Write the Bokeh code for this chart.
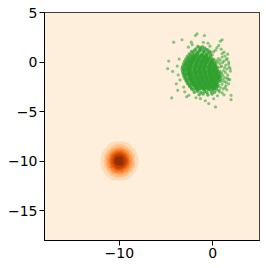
import numpy as np
from bokeh.plotting import figure
from bokeh.models import Range1d, FixedTicker, LinearColorMapper
from bokeh.embed import file_html
from bokeh.resources import INLINE

# ---------------- data ----------------
x_limits = [-18.0, 5.0]
y_limits = [-18.0, 5.0]
x_ticks = [-10, 0]
y_ticks = [-15, -10, -5, 0, 5]

density_center = [-10.0, -10.0]
density_sigma = 1.0
contour_levels = [0.0, 0.02, 0.04, 0.06, 0.08, 0.10, 0.12, 0.14, 0.16]

oranges_anchors = ["#fff5eb", "#fee6ce", "#fdd0a2", "#fdae6b", "#fd8d3c",
                   "#f16913", "#d94801", "#a63603", "#7f2704"]

green_core = [
    (-1.59, 1.56), (-1.36, 1.45), (-1.12, 1.53), (-0.88, 1.42),
    (-1.97, 1.19), (-1.81, 1.32), (-1.42, 1.22), (-1.27, 1.31), (-1.02, 1.18), (-0.70, 1.26), (-0.52, 1.21),
    (-2.27, 1.05), (-2.11, 0.96), (-1.72, 1.01), (-1.57, 0.93), (-1.39, 1.09), (-1.00, 0.98), (-0.84, 1.04), (-0.48, 0.95), (-0.33, 1.03),
    (-2.52, 0.81), (-2.36, 0.70), (-1.97, 0.77), (-1.82, 0.68), (-1.64, 0.84), (-1.25, 0.73), (-1.09, 0.79), (-0.73, 0.70), (-0.62, 0.78), (-0.27, 0.74),
    (-2.72, 0.56), (-2.56, 0.45), (-2.17, 0.52), (-2.02, 0.43), (-1.84, 0.59), (-1.45, 0.48), (-1.29, 0.54), (-0.93, 0.45), (-0.82, 0.53), (-0.47, 0.49), (-0.18, 0.55),
    (-2.87, 0.31), (-2.71, 0.20), (-2.32, 0.27), (-2.17, 0.18), (-1.99, 0.34), (-1.60, 0.23), (-1.44, 0.29), (-1.08, 0.20), (-0.97, 0.28), (-0.62, 0.24), (-0.46, 0.30), (-0.07, 0.21), (0.08, 0.27),
    (-3.02, 0.06), (-2.86, -0.05), (-2.47, 0.02), (-2.32, -0.07), (-2.14, 0.09), (-1.75, -0.02), (-1.59, 0.04), (-1.23, -0.05), (-1.12, 0.03), (-0.77, -0.01), (-0.61, 0.05), (-0.22, -0.04), (-0.07, 0.02), (0.18, -0.06),
    (-3.12, -0.19), (-2.96, -0.30), (-2.57, -0.23), (-2.42, -0.32), (-2.24, -0.16), (-1.85, -0.27), (-1.69, -0.21), (-1.33, -0.30), (-1.22, -0.22), (-0.87, -0.26), (-0.71, -0.20), (-0.32, -0.29), (-0.17, -0.23), (0.13, -0.31), (0.34, -0.18),
    (-3.22, -0.44), (-3.06, -0.55), (-2.67, -0.48), (-2.52, -0.57), (-2.34, -0.41), (-1.95, -0.52), (-1.79, -0.46), (-1.43, -0.55), (-1.32, -0.47), (-0.97, -0.51), (-0.81, -0.45), (-0.42, -0.54), (-0.27, -0.48), (0.03, -0.56), (0.29, -0.43), (0.48, -0.52),
    (-3.27, -0.69), (-3.11, -0.80), (-2.72, -0.73), (-2.57, -0.82), (-2.39, -0.66), (-2.00, -0.77), (-1.84, -0.71), (-1.48, -0.80), (-1.37, -0.72), (-1.02, -0.76), (-0.86, -0.70), (-0.47, -0.79), (-0.32, -0.73), (-0.02, -0.81), (0.24, -0.68), (0.49, -0.77),
    (-3.22, -0.94), (-3.06, -1.05), (-2.67, -0.98), (-2.52, -1.07), (-2.34, -0.91), (-1.95, -1.02), (-1.79, -0.96), (-1.43, -1.05), (-1.32, -0.97), (-0.97, -1.01), (-0.81, -0.95), (-0.42, -1.04), (-0.27, -0.98), (0.03, -1.06), (0.29, -0.93), (0.54, -1.02), (0.73, -0.96),
    (-3.17, -1.19), (-3.01, -1.30), (-2.62, -1.23), (-2.47, -1.32), (-2.29, -1.16), (-1.90, -1.27), (-1.74, -1.21), (-1.38, -1.30), (-1.27, -1.22), (-0.92, -1.26), (-0.76, -1.20), (-0.37, -1.29), (-0.22, -1.23), (0.08, -1.31), (0.34, -1.18), (0.59, -1.27), (0.78, -1.21),
    (-3.07, -1.44), (-2.91, -1.55), (-2.52, -1.48), (-2.37, -1.57), (-2.19, -1.41), (-1.80, -1.52), (-1.64, -1.46), (-1.28, -1.55), (-1.17, -1.47), (-0.82, -1.51), (-0.66, -1.45), (-0.27, -1.54), (-0.12, -1.48), (0.18, -1.56), (0.44, -1.43), (0.69, -1.52), (0.83, -1.46),
    (-2.97, -1.69), (-2.81, -1.80), (-2.42, -1.73), (-2.27, -1.82), (-2.09, -1.66), (-1.70, -1.77), (-1.54, -1.71), (-1.18, -1.80), (-1.07, -1.72), (-0.72, -1.76), (-0.56, -1.70), (-0.17, -1.79), (-0.02, -1.73), (0.28, -1.81), (0.54, -1.68), (0.78, -1.77),
    (-2.82, -1.94), (-2.66, -2.05), (-2.27, -1.98), (-2.12, -2.07), (-1.94, -1.91), (-1.55, -2.02), (-1.39, -1.96), (-1.03, -2.05), (-0.92, -1.97), (-0.57, -2.01), (-0.41, -1.95), (-0.02, -2.04), (0.13, -1.98), (0.43, -2.06), (0.69, -1.93),
    (-2.67, -2.19), (-2.51, -2.30), (-2.12, -2.23), (-1.97, -2.32), (-1.79, -2.16), (-1.40, -2.27), (-1.24, -2.21), (-0.88, -2.30), (-0.77, -2.22), (-0.42, -2.26), (-0.26, -2.20), (0.13, -2.29), (0.28, -2.23), (0.58, -2.31),
    (-2.47, -2.44), (-2.31, -2.55), (-1.92, -2.48), (-1.77, -2.57), (-1.59, -2.41), (-1.20, -2.52), (-1.04, -2.46), (-0.68, -2.55), (-0.57, -2.47), (-0.22, -2.51), (-0.06, -2.45), (0.33, -2.54), (0.48, -2.48),
    (-2.27, -2.69), (-2.11, -2.80), (-1.72, -2.73), (-1.57, -2.82), (-1.39, -2.66), (-1.00, -2.77), (-0.84, -2.71), (-0.48, -2.80), (-0.37, -2.72), (-0.02, -2.76), (0.14, -2.70), (0.43, -2.79),
    (-1.97, -3.04), (-1.63, -2.95), (-1.27, -3.06), (-0.86, -2.97), (-0.64, -3.08), (-0.17, -2.98), (0.18, -3.05),
    (-1.46, -3.30), (-1.04, -3.21), (-0.52, -3.31), (-0.07, -3.22),
]

green_inner = [
    (-2.21, 0.66), (-1.93, 0.58), (-1.71, 0.65), (-1.47, 0.59), (-1.18, 0.66), (-0.95, 0.58), (-0.68, 0.64),
    (-2.47, 0.33), (-2.24, 0.41), (-1.96, 0.34), (-1.72, 0.40), (-1.52, 0.33), (-1.20, 0.41), (-0.97, 0.35), (-0.74, 0.40), (-0.53, 0.33), (-0.29, 0.39),
    (-2.66, 0.16), (-2.40, 0.08), (-2.22, 0.15), (-1.93, 0.09), (-1.68, 0.16), (-1.36, 0.08), (-1.16, 0.14), (-0.87, 0.09), (-0.69, 0.16), (-0.37, 0.08), (-0.13, 0.15),
    (-2.80, -0.17), (-2.55, -0.09), (-2.33, -0.16), (-2.05, -0.10), (-1.78, -0.17), (-1.50, -0.09), (-1.28, -0.15), (-1.03, -0.10), (-0.79, -0.17), (-0.51, -0.09), (-0.27, -0.16), (-0.02, -0.10),
    (-2.89, -0.34), (-2.61, -0.42), (-2.44, -0.35), (-2.14, -0.41), (-1.90, -0.34), (-1.60, -0.42), (-1.38, -0.36), (-1.11, -0.41), (-0.89, -0.34), (-0.60, -0.42), (-0.37, -0.35), (-0.10, -0.41), (0.16, -0.34),
    (-2.94, -0.67), (-2.71, -0.59), (-2.46, -0.66), (-2.20, -0.60), (-1.95, -0.67), (-1.65, -0.59), (-1.42, -0.65), (-1.17, -0.60), (-0.93, -0.67), (-0.64, -0.59), (-0.41, -0.66), (-0.15, -0.60), (0.10, -0.67), (0.36, -0.60),
    (-2.92, -0.84), (-2.62, -0.92), (-2.43, -0.85), (-2.16, -0.91), (-1.89, -0.84), (-1.62, -0.92), (-1.39, -0.86), (-1.13, -0.91), (-0.88, -0.84), (-0.61, -0.92), (-0.38, -0.85), (-0.12, -0.91), (0.14, -0.84), (0.40, -0.92),
    (-2.85, -1.17), (-2.57, -1.09), (-2.39, -1.16), (-2.09, -1.10), (-1.84, -1.17), (-1.58, -1.09), (-1.33, -1.15), (-1.07, -1.10), (-0.83, -1.17), (-0.58, -1.09), (-0.31, -1.16), (-0.07, -1.10), (0.19, -1.17), (0.46, -1.09),
    (-2.78, -1.34), (-2.47, -1.42), (-2.28, -1.35), (-2.00, -1.41), (-1.73, -1.34), (-1.49, -1.42), (-1.23, -1.36), (-0.98, -1.41), (-0.72, -1.34), (-0.48, -1.42), (-0.22, -1.35), (0.04, -1.41), (0.30, -1.34), (0.55, -1.42),
    (-2.65, -1.67), (-2.38, -1.59), (-2.16, -1.66), (-1.89, -1.60), (-1.62, -1.67), (-1.37, -1.59), (-1.12, -1.65), (-0.87, -1.60), (-0.62, -1.67), (-0.38, -1.59), (-0.12, -1.66), (0.15, -1.60), (0.40, -1.67), (0.62, -1.59),
    (-2.47, -1.84), (-2.22, -1.92), (-1.98, -1.85), (-1.73, -1.91), (-1.47, -1.84), (-1.22, -1.92), (-0.97, -1.86), (-0.72, -1.91), (-0.47, -1.84), (-0.22, -1.92), (0.03, -1.85), (0.28, -1.91), (0.52, -1.84),
    (-2.33, -2.17), (-2.06, -2.09), (-1.83, -2.16), (-1.57, -2.10), (-1.32, -2.17), (-1.08, -2.09), (-0.82, -2.15), (-0.57, -2.10), (-0.31, -2.17), (-0.07, -2.09), (0.20, -2.16), (0.44, -2.10),
    (-2.12, -2.34), (-1.86, -2.42), (-1.62, -2.35), (-1.38, -2.41), (-1.12, -2.34), (-0.86, -2.42), (-0.63, -2.36), (-0.37, -2.41), (-0.12, -2.34), (0.12, -2.42), (0.34, -2.35),
    (-1.86, -2.67), (-1.58, -2.59), (-1.31, -2.66), (-1.08, -2.60), (-0.82, -2.67), (-0.55, -2.59), (-0.30, -2.65), (-0.06, -2.60), (0.18, -2.67),
]

green_sparse = [
    (-1.68, 2.85), (-1.86, 2.68), (-0.89, 2.68), (-2.29, 2.01), (-2.20, 1.75), (-3.29, 2.25), (-4.18, 2.01),
    (0.82, 2.11), (1.00, 2.25), (0.64, 1.68), (0.45, 1.45), (-0.30, 1.60), (-0.50, 1.90), (-1.00, 2.00),
    (-2.60, 1.50), (0.90, 1.30), (1.20, 1.00), (0.30, 1.20),
    (-4.71, 0.10), (-4.82, -0.67), (-4.29, -0.94), (-3.80, -0.40), (-3.60, 0.30), (-3.70, -1.30),
    (-3.50, -1.80), (-3.90, -2.20),
    (-3.75, -2.85), (-4.39, -3.62), (-3.11, -2.52), (-2.57, -3.36), (-3.00, -3.00), (-2.80, -3.50),
    (-1.32, -3.69), (-0.43, -4.19), (0.29, -4.53), (-0.80, -3.90), (0.10, -3.70), (-1.80, -3.60), (0.50, -3.40),
    (1.54, 0.34), (1.71, 0.00), (1.89, -0.91), (1.82, -1.78), (1.96, -3.36), (1.96, -3.79), (1.50, -2.80),
    (1.30, -2.60), (1.70, -2.20), (1.60, 0.80), (1.30, 0.60), (1.00, 0.50), (0.80, 0.20), (1.20, 0.10),
    (1.40, -0.30), (1.75, -0.50), (1.00, -3.10), (0.70, -3.00), (1.20, -3.30),
    (0.55, 0.05), (0.75, -0.15), (1.05, -0.05), (0.95, -0.40), (1.25, -0.55), (0.80, -0.50), (1.50, -0.70),
    (1.15, -0.85), (0.95, -1.10), (1.35, -1.05), (1.60, -1.30), (1.10, -1.35), (1.30, -1.60), (1.05, -1.70),
    (1.55, -1.60), (0.95, -1.95), (1.25, -1.95), (1.00, -2.25), (1.40, -2.40), (0.80, -2.55), (1.10, -2.70),
    (0.70, -2.85), (0.60, 0.35), (1.00, 0.85), (1.45, 0.25), (1.70, -0.20), (1.85, -0.65), (1.65, -1.75),
    (1.45, -2.05), (0.35, 0.15), (-0.05, 0.75), (-0.20, 1.00), (0.10, 1.05),
]

# ---------------- styling helpers ----------------
def hex_to_rgb(h):
    return np.array([int(h[i:i + 2], 16) for i in (1, 3, 5)], dtype=float)

def oranges_at(t):
    pos = t * (len(oranges_anchors) - 1)
    i = min(int(np.floor(pos)), len(oranges_anchors) - 2)
    f = pos - i
    c = hex_to_rgb(oranges_anchors[i]) * (1 - f) + hex_to_rgb(oranges_anchors[i + 1]) * f
    return "#%02x%02x%02x" % tuple(int(round(v)) for v in c)

lv_lo, lv_hi = contour_levels[0], contour_levels[-1]
band_colors = [oranges_at(((a + b) / 2 - lv_lo) / (lv_hi - lv_lo))
               for a, b in zip(contour_levels[:-1], contour_levels[1:])]

# density field on a grid, quantised into the contour bands
n = 360
gx = np.linspace(x_limits[0], x_limits[1], n)
gy = np.linspace(y_limits[0], y_limits[1], n)
GX, GY = np.meshgrid(gx, gy)
dens = np.exp(-((GX - density_center[0]) ** 2 + (GY - density_center[1]) ** 2)
              / (2 * density_sigma ** 2)) / (2 * np.pi * density_sigma ** 2)
band = np.clip(np.digitize(dens, contour_levels) - 1, 0, len(band_colors) - 1).astype(float)

mapper = LinearColorMapper(palette=band_colors, low=0, high=len(band_colors))

p = figure(width=266, height=268,
           x_range=Range1d(*x_limits), y_range=Range1d(*y_limits),
           output_backend="svg", toolbar_location=None,
           min_border_left=44, min_border_right=7, min_border_top=12, min_border_bottom=28)

p.image(image=[band], x=x_limits[0], y=y_limits[0],
        dw=x_limits[1] - x_limits[0], dh=y_limits[1] - y_limits[0], color_mapper=mapper)

green = "#2ca02c"
dense_pts = green_core + green_inner
p.scatter([q[0] for q in green_sparse], [q[1] for q in green_sparse], size=3.2,
          fill_color=green, fill_alpha=0.55, line_color=None)
p.scatter([q[0] for q in dense_pts], [q[1] for q in dense_pts], size=3.6,
          fill_color=green, fill_alpha=0.72, line_color=None)

p.grid.visible = False
p.outline_line_color = "black"
p.outline_line_width = 1
p.background_fill_color = "white"

p.xaxis.ticker = FixedTicker(ticks=x_ticks)
p.yaxis.ticker = FixedTicker(ticks=y_ticks)
p.xaxis.major_label_overrides = {float(t): str(t).replace("-", "\u2212") for t in x_ticks}
p.yaxis.major_label_overrides = {float(t): str(t).replace("-", "\u2212") for t in y_ticks}

for ax in (p.xaxis[0], p.yaxis[0]):
    ax.axis_line_color = "black"
    ax.axis_line_width = 1
    ax.major_tick_line_color = "black"
    ax.major_tick_line_width = 1
    ax.major_tick_out = 5
    ax.major_tick_in = 0
    ax.minor_tick_line_color = None
    ax.major_label_text_font = "DejaVu Sans"
    ax.major_label_text_font_size = "14px"
    ax.major_label_text_color = "black"
    ax.major_label_standoff = 2

open("out.html", "w").write(file_html(p, INLINE))
